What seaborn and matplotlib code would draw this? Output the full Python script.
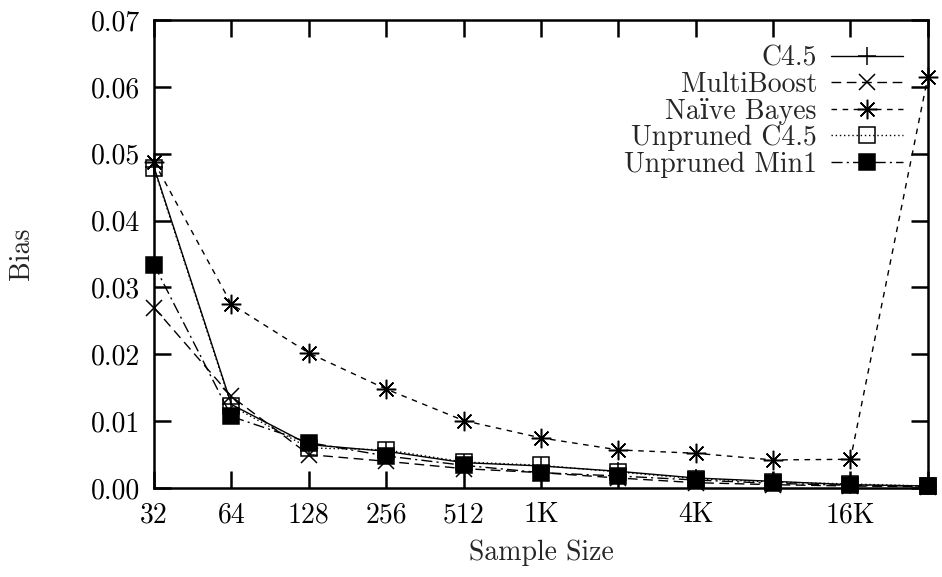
import matplotlib
matplotlib.use("Agg")
import matplotlib.pyplot as plt
import seaborn as sns
import numpy as np
from matplotlib.ticker import FixedLocator, FixedFormatter, FormatStrFormatter, NullLocator

# ---- data ----
sample_sizes = [32, 64, 128, 256, 512, 1024, 2048, 4096, 8192, 16384, 32768]
tick_labels = ["32", "64", "128", "256", "512", "1K", "", "4K", "", "16K", ""]
c45 = [0.0480, 0.0125, 0.0065, 0.0055, 0.0038, 0.0033, 0.0025, 0.0015, 0.0010, 0.0005, 0.0003]
multiboost = [0.0270, 0.0137, 0.0050, 0.0040, 0.0029, 0.0023, 0.0015, 0.0008, 0.0005, 0.0003, 0.0002]
naive_bayes = [0.0488, 0.0275, 0.0202, 0.0148, 0.0101, 0.0075, 0.0057, 0.0052, 0.0042, 0.0043, 0.0615]
unpruned_c45 = [0.0478, 0.0123, 0.0060, 0.0057, 0.0039, 0.0034, 0.0024, 0.0014, 0.0009, 0.0006, 0.0003]
unpruned_min1 = [0.0334, 0.0107, 0.0068, 0.0048, 0.0034, 0.0023, 0.0018, 0.0012, 0.0007, 0.0004, 0.0003]
series_names = ["C4.5", "MultiBoost", "Naïve Bayes", "Unpruned C4.5", "Unpruned Min1"]

sns.set_style("ticks")
plt.rcParams["font.family"] = ["cmr10", "DejaVu Serif"]
plt.rcParams["axes.unicode_minus"] = False
plt.rcParams["mathtext.fontset"] = "cm"

FS = 20

fig = plt.figure(figsize=(9.42, 5.77), dpi=100)
ax = fig.add_axes([0.1635, 0.1542, 0.8215, 0.8111])

styles = [
    dict(marker="+", linestyle="-", ms=13, mfc="k"),
    dict(marker="x", linestyle=(0, (7, 4)), ms=11, mfc="k"),
    dict(marker=(8, 2, 0), linestyle=(0, (4, 4)), ms=14, mfc="k"),
    dict(marker="s", linestyle=(0, (1, 2)), ms=11, mfc="none"),
    dict(marker="s", linestyle=(0, (8, 3, 1.5, 3)), ms=11, mfc="k"),
]
data = [c45, multiboost, naive_bayes, unpruned_c45, unpruned_min1]

for name, vals, st in zip(series_names, data, styles):
    sns.lineplot(x=sample_sizes, y=vals, ax=ax, color="k", label=name,
                 linewidth=1.0, mec="k", mew=1.1, clip_on=False, zorder=3, **st)

ax.set_xscale("log", base=2)
ax.set_xlim(32, 32768)
ax.set_ylim(0, 0.07)
ax.xaxis.set_major_locator(FixedLocator(sample_sizes))
ax.xaxis.set_major_formatter(FixedFormatter(tick_labels))
ax.xaxis.set_minor_locator(NullLocator())
ax.yaxis.set_major_locator(FixedLocator(np.arange(0, 0.0701, 0.01)))
ax.yaxis.set_major_formatter(FormatStrFormatter("%.2f"))

for s in ax.spines.values():
    s.set_visible(True)
    s.set_linewidth(1.8)
    s.set_color("k")

ax.tick_params(axis="both", which="major", direction="in", length=12, width=1.8,
               top=True, right=True, labelsize=FS, colors="k")
ax.tick_params(axis="x", pad=10)
ax.tick_params(axis="y", pad=10)

ax.set_xlabel("Sample Size", fontsize=FS, labelpad=8)
ax.set_ylabel("Bias", fontsize=FS, labelpad=40)

leg = ax.legend(loc="upper right", frameon=False, markerfirst=False, fontsize=FS,
                handlelength=2.6, handletextpad=0.5, labelspacing=0.0,
                borderaxespad=0.5, borderpad=0.4)

fig.savefig("out.png", dpi=100)
